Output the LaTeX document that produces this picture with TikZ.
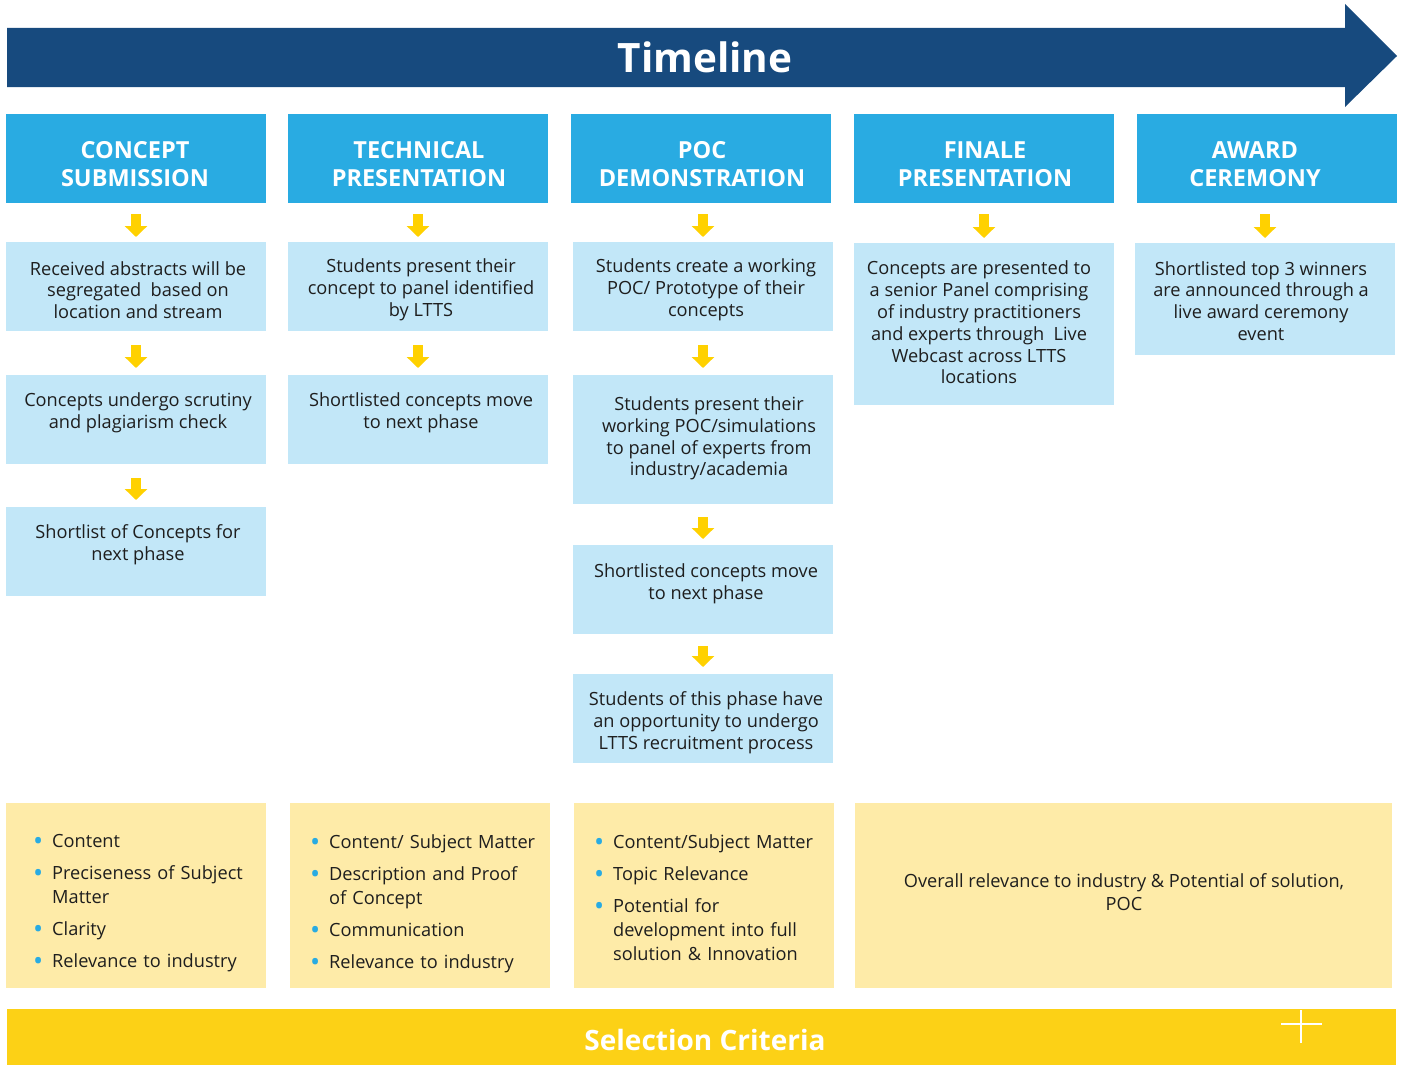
\documentclass[tikz,border=0pt]{standalone}
\usepackage{fontspec}
\setmainfont{Open Sans}
\usetikzlibrary{arrows.meta,calc}
\definecolor{dkb}{HTML}{174A7E}
\definecolor{hb}{HTML}{29ABE2}
\definecolor{lb}{HTML}{C2E7F8}
\definecolor{ly}{HTML}{FEEBA8}
\definecolor{yb}{HTML}{FCD116}
\definecolor{ya}{HTML}{FFD100}
\definecolor{tx}{HTML}{1E1E1E}
\newcommand\bx[9]{%
  \node[#1, anchor=north west, minimum width=#5pt, minimum height=#6pt] (#2) at (#3,#4) {};
  \node[#1txt] (#2t) at (#7,#8) {#9};}
\newcommand\bul{\makebox[19pt][l]{\textcolor{hb}{\raisebox{-3pt}{\fontsize{27}{27}\selectfont\textbullet}}}}
\newcommand\itm[1]{\hangindent=19pt\hangafter=1\noindent\bul#1\par}
\newcommand\isep{\vskip 8pt}
\begin{document}
\begin{tikzpicture}[x=1pt,y=-1pt,
  hbox/.style={fill=hb, inner sep=0, outer sep=0},
  hboxtxt/.style={text=white, font=\fontsize{23.5}{28}\selectfont\bfseries, align=center, inner sep=0},
  lbox/.style={fill=lb, inner sep=0, outer sep=0},
  lboxtxt/.style={text=tx, font=\fontsize{18.2}{21.8}\selectfont, align=center, inner sep=0},
  ybox/.style={fill=ly, inner sep=0, outer sep=0},
  yboxtxt/.style={text=tx, font=\fontsize{18.2}{23}\selectfont, align=center, inner sep=0},
  crit/.style={text=tx, font=\fontsize{18.2}{24}\selectfont, inner sep=0, anchor=north west, text width=235pt, execute at begin node={\raggedright}},
  yarr/.style={draw=ya, line width=10pt, -{Triangle[width=22pt,length=11pt]}}
]
\useasboundingbox (0,0) rectangle (1405,1065);
% timeline arrow
\fill[dkb] (7,28) -- (1345,28) -- (1345,4) -- (1397,56) -- (1345,107) -- (1345,87) -- (7,87) -- cycle;
\node[text=white, font=\fontsize{40.5}{40}\selectfont\bfseries] (tl) at (705,57) {Timeline};
% headers
\bx{hbox}{c1h}{6}{114}{260}{89}{135}{164}{CONCEPT\\SUBMISSION}
\bx{hbox}{c2h}{288}{114}{260}{89}{419}{164}{TECHNICAL\\PRESENTATION}
\bx{hbox}{c3h}{571}{114}{260}{89}{702}{164}{POC\\DEMONSTRATION}
\bx{hbox}{c4h}{854}{114}{260}{89}{985}{164}{FINALE\\PRESENTATION}
\bx{hbox}{c5h}{1137}{114}{260}{89}{1255}{164}{AWARD\\CEREMONY}
% column 1
\bx{lbox}{c1b1}{6}{242}{260}{89}{138}{290}{Received abstracts will be\\segregated\ \ based on\\location and stream}
\bx{lbox}{c1b2}{6}{375}{260}{89}{138}{413}{Concepts undergo scrutiny\\and plagiarism check}
\bx{lbox}{c1b3}{6}{507}{260}{89}{138}{545}{Shortlist of Concepts for\\next phase}
% column 2
\bx{lbox}{c2b1}{288}{242}{260}{89}{421}{290}{Students present their\\concept to panel identified\\by LTTS}
\bx{lbox}{c2b2}{288}{375}{260}{89}{421}{413}{Shortlisted concepts move\\to next phase}
% column 3
\bx{lbox}{c3b1}{573}{242}{260}{89}{706}{290}{Students create a working\\POC/ Prototype of their\\concepts}
\bx{lbox}{c3b2}{573}{375}{260}{129}{709}{438.5}{Students present their\\working POC/simulations\\to panel of experts from\\industry/academia}
\bx{lbox}{c3b3}{573}{545}{260}{89}{706}{584}{Shortlisted concepts move\\to next phase}
\bx{lbox}{c3b4}{573}{674}{260}{89}{706}{723}{Students of this phase have\\an opportunity to undergo\\LTTS recruitment process}
% column 4
\bx{lbox}{c4b1}{854}{243}{260}{162}{979}{322.5}{Concepts are presented to\\a senior Panel comprising\\of industry practitioners\\and experts through\ \ Live\\Webcast across LTTS\\locations}
% column 5
\bx{lbox}{c5b1}{1135}{243}{260}{112}{1261}{301}{Shortlisted top 3 winners\\are announced through a\\live award ceremony\\event}
% arrows
\draw[yarr] ($(c1b1.north |- c1h.south)+(0,11)$) -- ($(c1b1.north)+(0,-5)$);
\draw[yarr] ($(c2b1.north |- c2h.south)+(0,11)$) -- ($(c2b1.north)+(0,-5)$);
\draw[yarr] ($(c3b1.north |- c3h.south)+(0,11)$) -- ($(c3b1.north)+(0,-5)$);
\draw[yarr] ($(c4b1.north |- c4h.south)+(0,11)$) -- ($(c4b1.north)+(0,-5)$);
\draw[yarr] ($(c5b1.north |- c5h.south)+(0,11)$) -- ($(c5b1.north)+(0,-5)$);
\draw[yarr] ($(c1b1.south)+(0,14)$) -- ($(c1b2.north)+(0,-7)$);
\draw[yarr] ($(c1b2.south)+(0,14)$) -- ($(c1b3.north)+(0,-7)$);
\draw[yarr] ($(c2b1.south)+(0,14)$) -- ($(c2b2.north)+(0,-7)$);
\draw[yarr] ($(c3b1.south)+(0,14)$) -- ($(c3b2.north)+(0,-7)$);
\draw[yarr] ($(c3b2.south)+(0,13)$) -- ($(c3b3.north)+(0,-6)$);
\draw[yarr] ($(c3b3.south)+(0,12)$) -- ($(c3b4.north)+(0,-7)$);
% criteria
\node[ybox, anchor=north west, minimum width=260pt, minimum height=185pt] (k1) at (6,803) {};
\node[ybox, anchor=north west, minimum width=260pt, minimum height=185pt] (k2) at (290,803) {};
\node[ybox, anchor=north west, minimum width=260pt, minimum height=185pt] (k3) at (574,803) {};
\bx{ybox}{k4}{855}{803}{537}{185}{1124}{892}{Overall relevance to industry \& Potential of solution,\\POC}
\node[crit] (k1t) at (33,834) {\itm{Content}\isep\itm{Preciseness of Subject\newline Matter}\isep\itm{Clarity}\isep\itm{Relevance to industry}};
\node[crit] (k2t) at (310,834) {\itm{Content/ Subject Matter}\isep\itm{Description and Proof\newline of Concept}\isep\itm{Communication}\isep\itm{Relevance to industry}};
\node[crit] (k3t) at (594,834) {\itm{Content/Subject Matter}\isep\itm{Topic Relevance}\isep\itm{Potential for\newline development into full\newline solution \& Innovation}};
% selection bar
\node[fill=yb, inner sep=0, outer sep=0, anchor=north west, minimum width=1389pt, minimum height=56pt] (bar) at (7,1009) {};
\node[text=white, font=\fontsize{28}{28}\selectfont\bfseries] (bart) at (705,1040) {Selection Criteria};
\draw[white, line width=2.5pt] (1301,1010) -- (1301,1043) (1281,1024) -- (1322,1024);
\end{tikzpicture}
\end{document}
